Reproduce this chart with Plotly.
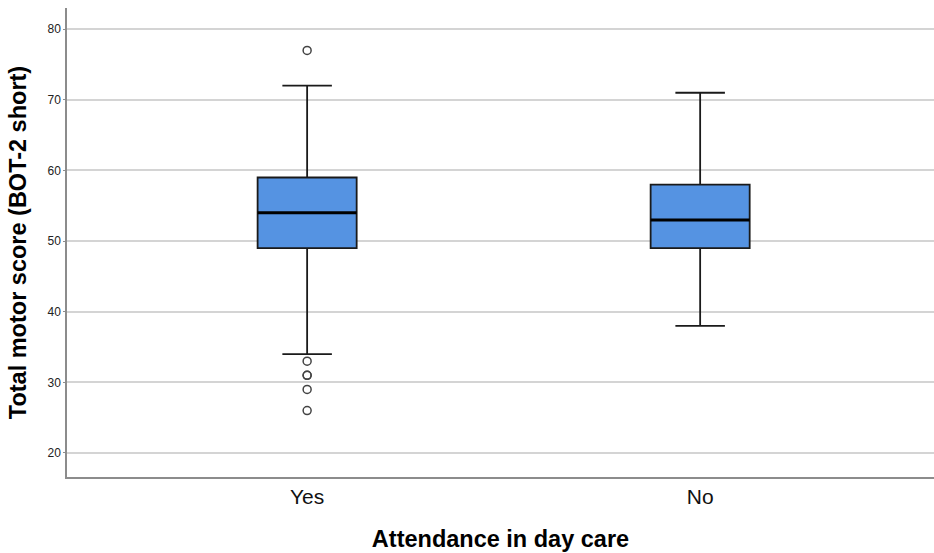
import plotly.graph_objects as go

# Summary statistics per group
groups = ["Yes", "No"]
q1 = [49, 49]
medians = [54, 53]
q3 = [59, 58]
lower_whisker = [34, 38]
upper_whisker = [72, 71]
outliers_yes = [77, 33, 31, 31, 29, 26]
outliers_no = []

y_ticks = [20, 30, 40, 50, 60, 70, 80]

box_fill = "#5593E2"
edge = "#1a1a1a"
box_width = 0.252

fig = go.Figure()

for i, g in enumerate(groups):
    fig.add_trace(go.Box(
        x=[i], q1=[q1[i]], median=[medians[i]], q3=[q3[i]],
        lowerfence=[lower_whisker[i]], upperfence=[upper_whisker[i]],
        width=box_width, whiskerwidth=0.5,
        fillcolor=box_fill, line=dict(color=edge, width=1.8),
        boxpoints=False, showlegend=False, hoverinfo="skip",
    ))
    # thicker median bar
    fig.add_trace(go.Scatter(
        x=[i - box_width / 2, i + box_width / 2], y=[medians[i], medians[i]],
        mode="lines", line=dict(color="black", width=3),
        showlegend=False, hoverinfo="skip",
    ))

for i, pts in enumerate([outliers_yes, outliers_no]):
    if pts:
        fig.add_trace(go.Scatter(
            x=[i] * len(pts), y=pts, mode="markers",
            marker=dict(symbol="circle-open", size=8, color="#444444",
                        line=dict(width=1.5)),
            showlegend=False, hoverinfo="skip",
        ))

fig.update_layout(
    width=934, height=553,
    margin=dict(l=67, r=0, t=8, b=76),
    paper_bgcolor="white", plot_bgcolor="white",
    font=dict(family="Liberation Sans, Arial, sans-serif", color="black"),
    xaxis=dict(
        range=[-0.611, 1.595], tickmode="array",
        tickvals=list(range(len(groups))), ticktext=groups,
        tickfont=dict(size=21, color="#111111"), ticks="", showgrid=False, zeroline=False,
        showline=True, linecolor="#8c8c8c", linewidth=1.5,
        title=dict(text="<b>Attendance in day care</b>", font=dict(size=23.5), standoff=24),
    ),
    yaxis=dict(
        range=[16.6, 83], tickvals=y_ticks, tickfont=dict(size=12, color="#222222"),
        ticks="outside", ticklen=2, tickcolor="#8c8c8c", tickwidth=1,
        showgrid=True, gridcolor="#d4d4d4", gridwidth=1.5, zeroline=False,
        showline=True, linecolor="#8c8c8c", linewidth=1.5,
        title=dict(text="<b>Total motor score (BOT-2 short)</b>", font=dict(size=23.5), standoff=14),
    ),
)

fig.write_html("out.html")
